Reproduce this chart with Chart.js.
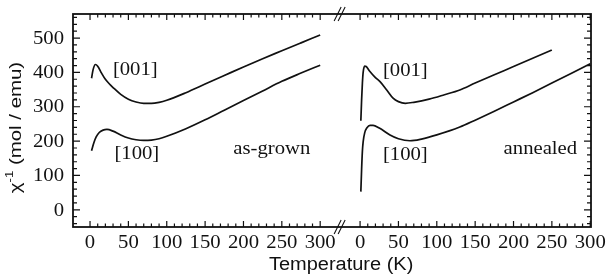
<!DOCTYPE html>
<html>
<head>
<meta charset="utf-8">
<script src="https://cdn.jsdelivr.net/npm/chart.js@4.4.0/dist/chart.umd.min.js"></script>
<style>
  html, body { margin: 0; padding: 0; background: #fff; }
  #wrap { width: 608px; height: 280px; }
</style>
</head>
<body>
<div id="wrap"><canvas id="chi-chart"></canvas></div>
<script>
// inverse susceptibility chi^-1 (mol/emu) vs temperature (K)
// as-grown crystal
const grownTemp001 = [2, 4, 7, 10, 15, 20, 25, 30, 40, 50, 60, 70, 80, 90, 100, 125, 150, 175, 200, 225, 250, 275, 300];
const grown001 = [383, 408, 423, 418, 398, 380, 367, 356, 336, 322, 314, 310, 310, 313, 319, 341, 366, 391, 416, 440, 463, 486, 509];
const grownTemp100 = [2, 5, 8, 12, 17, 22, 30, 40, 50, 60, 70, 80, 90, 100, 125, 150, 175, 200, 225, 250, 275, 300];
const grown100 = [172, 195, 212, 225, 232, 234, 229, 218, 209, 204, 202, 203, 207, 214, 236, 262, 290, 318, 346, 374, 398, 421];

// annealed crystal
const annealedTemp001 = [1, 2, 3, 4, 6, 8, 12, 20, 26, 35, 43, 50, 59, 70, 90, 110, 130, 150, 175, 200, 225, 250];
const annealed001 = [259, 320, 368, 400, 418, 417, 405, 385, 373, 348, 325, 315, 310, 313, 322, 335, 349, 369, 393, 417, 441, 465];
const annealedTemp100 = [1, 2, 3, 4, 6, 9, 13, 17, 25, 39, 50, 65, 80, 100, 130, 150, 175, 200, 225, 250, 275, 300];
const annealed100 = [53, 118, 170, 198, 224, 239, 246, 246, 238, 218, 207, 201, 206, 218, 241, 261, 287, 314, 341, 369, 397, 425];

// tick labels of each panel and of the y axis
const tempTicks = [0, 50, 100, 150, 200, 250, 300];
const chiTicks = [0, 100, 200, 300, 400, 500];

// text labels inside the plot: [text, panel, temperature, chi]
const plotLabels = [
  ['[001]', 0, 59, 406],
  ['[100]', 0, 61, 162],
  ['as-grown', 0, 237, 175],
  ['[001]', 1, 59, 402],
  ['[100]', 1, 59, 160],
  ['annealed', 1, 235, 175]
];

// the broken x axis: panel 2 is shifted along one continuous scale
const PANEL_SHIFT = 352;
const BREAK_AT = 326;
const INK = '#111';

function toPoints(temps, vals, shift) {
  return temps.map((t, i) => ({ x: t + shift, y: vals[i] }));
}

function stretchText(ctx, text, x, y, font, sx, align, angle) {
  ctx.save();
  ctx.translate(x, y);
  if (angle) ctx.rotate(angle);
  ctx.scale(sx, 1);
  ctx.font = font;
  ctx.textAlign = align;
  ctx.textBaseline = 'middle';
  ctx.fillText(text, 0, 0);
  ctx.restore();
}

const frameAndText = {
  id: 'frameAndText',
  afterDraw(chart) {
    const { ctx, chartArea: a } = chart;
    const xs = chart.scales.x, ys = chart.scales.y;
    ctx.save();
    ctx.strokeStyle = INK;
    ctx.fillStyle = INK;

    // frame
    ctx.lineWidth = 1.8;
    ctx.strokeRect(a.left, a.top, a.right - a.left, a.bottom - a.top);

    // inward ticks, minor every 10 K and 20 mol/emu
    ctx.lineWidth = 1.2;
    ctx.beginPath();
    [0, PANEL_SHIFT].forEach(off => {
      for (let t = 0; t <= 300; t += 10) {
        const px = xs.getPixelForValue(t + off);
        const len = t % 50 === 0 ? 6 : 3.5;
        ctx.moveTo(px, a.bottom); ctx.lineTo(px, a.bottom - len);
        ctx.moveTo(px, a.top); ctx.lineTo(px, a.top + len);
      }
    });
    for (let v = -40; v <= 560; v += 20) {
      const py = ys.getPixelForValue(v);
      const len = v % 100 === 0 ? 7 : 4;
      ctx.moveTo(a.left, py); ctx.lineTo(a.left + len, py);
      ctx.moveTo(a.right, py); ctx.lineTo(a.right - len, py);
    }
    ctx.stroke();

    // axis break marks
    const bx = xs.getPixelForValue(BREAK_AT);
    ctx.lineWidth = 1.1;
    ctx.beginPath();
    [a.top, a.bottom].forEach(ay => {
      ctx.moveTo(bx - 6, ay + 7); ctx.lineTo(bx + 1, ay - 7);
      ctx.moveTo(bx - 2, ay + 7); ctx.lineTo(bx + 5, ay - 7);
    });
    ctx.stroke();

    // tick labels
    const tickFont = '18px "Liberation Serif", "Times New Roman", serif';
    xs.ticks.forEach(tk => {
      const label = tk.value > BREAK_AT ? tk.value - PANEL_SHIFT : tk.value;
      stretchText(ctx, String(label), xs.getPixelForValue(tk.value), a.bottom + 16, tickFont, 1.15, 'center');
    });
    ys.ticks.forEach(tk => {
      stretchText(ctx, String(tk.value), a.left - 9, ys.getPixelForValue(tk.value) + 1, tickFont, 1.15, 'right');
    });

    // axis titles
    const sansFont = '18px "Liberation Sans", Arial, sans-serif';
    stretchText(ctx, 'Temperature (K)', bx + 1, a.bottom + 38, sansFont, 1.11, 'center');

    ctx.save();
    ctx.translate(16, (a.top + a.bottom) / 2 + 7);
    ctx.rotate(-Math.PI / 2);
    ctx.scale(1.2, 1);
    ctx.textBaseline = 'middle';
    ctx.textAlign = 'left';
    const big = '17px "Liberation Sans", Arial, sans-serif';
    const small = '11px "Liberation Sans", Arial, sans-serif';
    ctx.font = big;
    const w1 = ctx.measureText('\u03c7').width;
    const w3 = ctx.measureText(' (mol / emu)').width;
    ctx.font = small;
    const w2 = ctx.measureText('-1').width;
    let cx = -(w1 + w2 + w3) / 2;
    ctx.font = big;
    ctx.fillText('\u03c7', cx, 0);
    cx += w1;
    ctx.font = small;
    ctx.fillText('-1', cx, -6);
    cx += w2;
    ctx.font = big;
    ctx.fillText(' (mol / emu)', cx, 0);
    ctx.restore();

    // labels inside the plot
    const labelFont = '18px "Liberation Serif", "Times New Roman", serif';
    plotLabels.forEach(([text, panel, t, v]) => {
      const px = xs.getPixelForValue(t + panel * PANEL_SHIFT);
      const py = ys.getPixelForValue(v);
      stretchText(ctx, text, px, py, labelFont, 1.15, 'center');
    });

    ctx.restore();
  }
};

function lineSet(label, temps, vals, shift) {
  return {
    label: label,
    data: toPoints(temps, vals, shift),
    borderColor: INK,
    borderWidth: 1.7,
    pointRadius: 0,
    fill: false,
    cubicInterpolationMode: 'monotone'
  };
}

const ctx = document.getElementById('chi-chart').getContext('2d');
new Chart(ctx, {
  type: 'line',
  data: {
    datasets: [
      lineSet('as-grown [001]', grownTemp001, grown001, 0),
      lineSet('as-grown [100]', grownTemp100, grown100, 0),
      lineSet('annealed [001]', annealedTemp001, annealed001, PANEL_SHIFT),
      lineSet('annealed [100]', annealedTemp100, annealed100, PANEL_SHIFT)
    ]
  },
  options: {
    responsive: true,
    maintainAspectRatio: false,
    animation: false,
    layout: { padding: { top: 14, right: 17, left: 0, bottom: 0 } },
    scales: {
      x: {
        type: 'linear',
        min: -22.2,
        max: 653,
        afterBuildTicks: scale => {
          scale.ticks = tempTicks.map(v => ({ value: v }))
            .concat(tempTicks.map(v => ({ value: v + PANEL_SHIFT })));
        },
        afterFit: scale => { scale.height = 53; },
        grid: { display: false },
        border: { display: false },
        ticks: { display: false }
      },
      y: {
        type: 'linear',
        min: -50,
        max: 570,
        afterBuildTicks: scale => {
          scale.ticks = chiTicks.map(v => ({ value: v }));
        },
        afterFit: scale => { scale.width = 73; },
        grid: { display: false },
        border: { display: false },
        ticks: { display: false }
      }
    },
    plugins: {
      legend: { display: false },
      tooltip: { enabled: false }
    }
  },
  plugins: [frameAndText]
});
</script>
</body>
</html>
